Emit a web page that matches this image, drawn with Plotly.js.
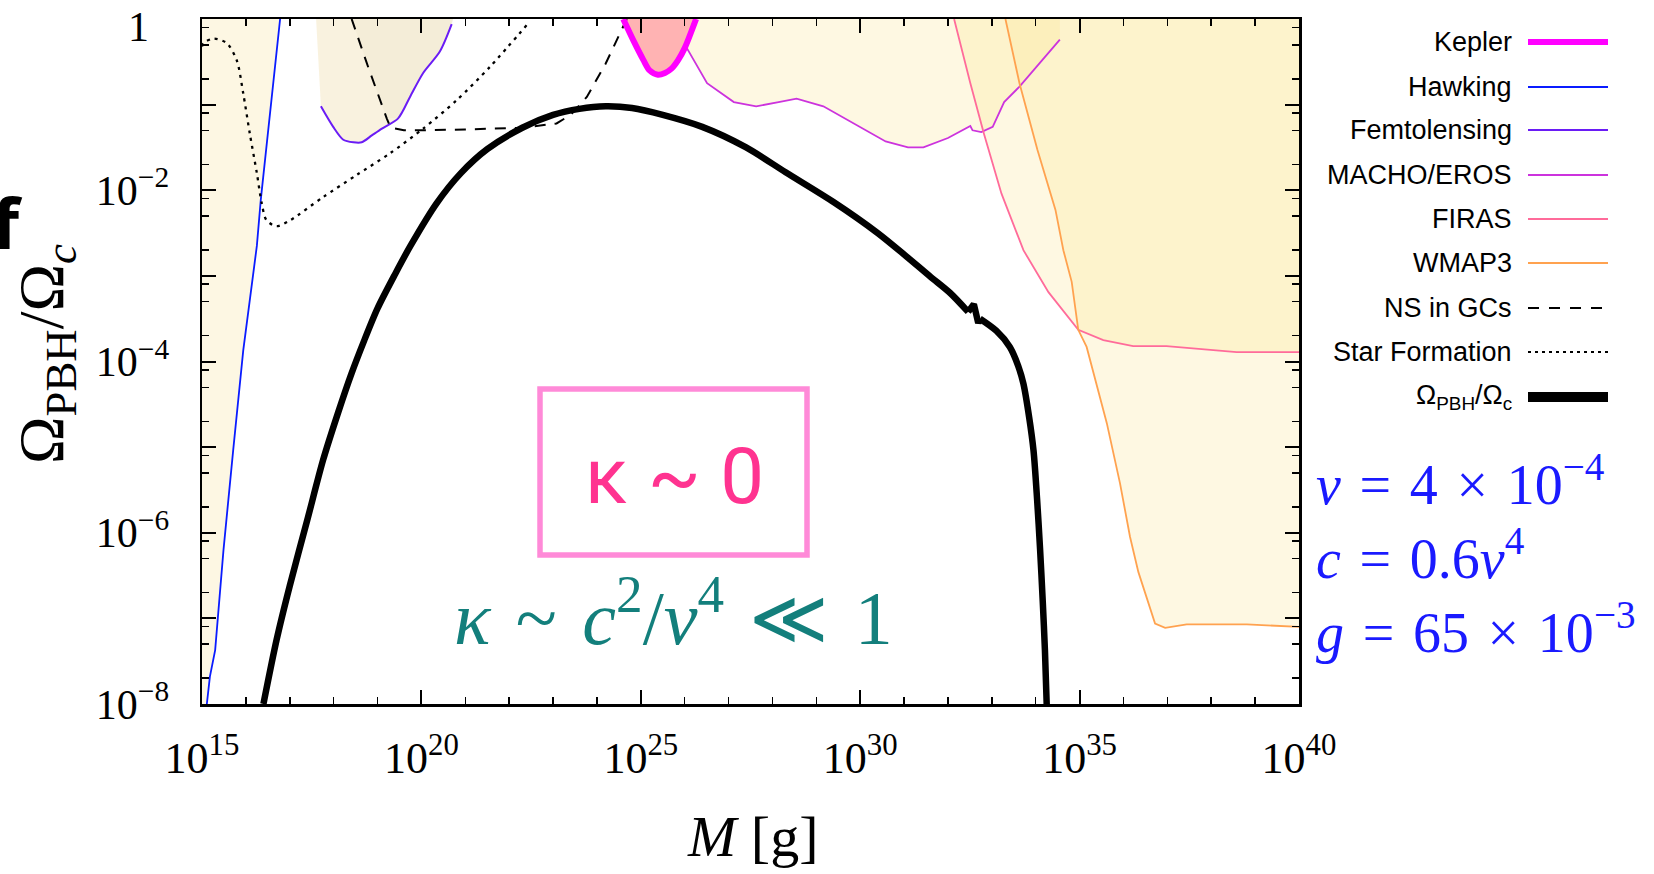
<!DOCTYPE html>
<html>
<head>
<meta charset="utf-8">
<script src="https://cdn.plot.ly/plotly-3.0.1.min.js"></script>
<style>
html,body{margin:0;padding:0;background:#fff;}
#chart{width:1654px;height:874px;}
</style>
</head>
<body>
<div id="chart"></div>
<script>
// ---------- data (log10 M [g], log10 Omega_PBH/Omega_c) ----------
var pbhLogM = [16.40,16.70,17.00,17.40,17.76,18.10,18.40,18.70,19.00,19.40,19.75,20.35,20.90,21.50,22.30,23.00,23.60,24.20,24.80,25.50,26.40,27.40,28.30,29.40,30.40,31.00,31.60,32.05,32.46,32.59,32.69,32.73,33.10,33.41,33.60,33.72,33.85,33.95,34.03,34.10,34.16,34.21,34.25];
var pbhLogO = [-8.00,-7.25,-6.62,-5.85,-5.15,-4.60,-4.15,-3.75,-3.38,-2.98,-2.65,-2.15,-1.80,-1.52,-1.27,-1.12,-1.05,-1.02,-1.04,-1.12,-1.26,-1.50,-1.79,-2.14,-2.50,-2.75,-3.01,-3.20,-3.42,-3.33,-3.55,-3.50,-3.64,-3.83,-4.05,-4.26,-4.65,-5.04,-5.60,-6.20,-6.80,-7.37,-8.00];

var hawkLogM = [15.11,15.18,15.30,15.49,15.71,15.94,16.09,16.25,16.34,16.78];
var hawkLogO = [-8.00,-7.68,-7.37,-6.20,-5.04,-3.87,-3.28,-2.65,-2.11,0.00];

var femtoLogM = [17.60,17.71,17.99,18.22,18.45,18.64,18.87,19.10,19.47,19.74,20.04,20.42,20.69];
var femtoLogO = [0.00,-1.02,-1.26,-1.41,-1.44,-1.44,-1.36,-1.28,-1.16,-0.91,-0.63,-0.38,-0.06];

var nsLogM = [18.41,18.80,19.21,19.30,19.60,20.04,21.00,22.32,23.08,23.40,23.77,24.20,24.68];
var nsLogO = [0.00,-0.58,-1.16,-1.27,-1.30,-1.30,-1.29,-1.27,-1.22,-1.12,-0.91,-0.52,0.00];

var starLogM = [15.00,15.03,15.26,15.56,15.79,15.94,16.09,16.25,16.36,16.47,16.70,17.01,17.76,18.53,19.28,20.04,20.80,21.56,22.47];
var starLogO = [-0.32,-0.28,-0.23,-0.28,-0.48,-0.87,-1.34,-1.80,-2.15,-2.35,-2.42,-2.35,-2.08,-1.82,-1.57,-1.28,-0.95,-0.56,-0.03];

var keplerLogM = [24.60,24.83,25.06,25.20,25.39,25.55,25.70,25.85,26.00,26.26];
var keplerLogO = [0.00,-0.25,-0.48,-0.60,-0.65,-0.63,-0.58,-0.48,-0.34,0.00];

var machoLogM = [26.05,26.51,27.12,27.63,28.14,28.55,29.16,30.07,30.58,31.09,31.44,32.00,32.51,32.56,32.76,33.02,33.28,33.63,34.04,34.55];
var machoLogO = [-0.34,-0.75,-0.97,-1.02,-0.97,-0.93,-1.02,-1.28,-1.43,-1.50,-1.50,-1.39,-1.25,-1.30,-1.32,-1.26,-0.97,-0.79,-0.54,-0.24];

var firasLogM = [32.14,32.51,32.82,33.22,33.72,34.29,34.97,35.54,36.22,36.98,38.58,40.00];
var firasLogO = [0.00,-0.75,-1.34,-2.04,-2.70,-3.19,-3.63,-3.75,-3.82,-3.82,-3.89,-3.89];

var wmapLogM = [33.31,33.63,34.04,34.45,34.63,34.82,34.97,35.16,35.62,35.92,36.15,36.34,36.72,36.95,37.44,38.81,40.00];
var wmapLogO = [0.00,-0.75,-1.53,-2.23,-2.70,-3.07,-3.63,-3.83,-4.72,-5.42,-6.05,-6.46,-7.06,-7.11,-7.07,-7.07,-7.10];

var legendNames = ['Kepler','Hawking','Femtolensing','MACHO/EROS','FIRAS','WMAP3','NS in GCs','Star Formation','Ω<sub>PBH</sub>/Ω<sub>c</sub>'];
var xTickExp = [15,20,25,30,35,40];
var yTickExp = [-8,-7,-6,-5,-4,-3,-2,-1,0];
var yMinorMult = [2,5,8];

// ---------- helpers ----------
function pw(a){ return a.map(function(v){ return Math.pow(10, v); }); }
var AXMIN = 15, AXMAX = 40, AYMIN = -8, AYTOP = 0;

// ---------- styles ----------
var cKepler = '#ff00ff', cHawk = '#0a1cff', cFemto = '#6a1cf5', cMacho = '#cc33dd',
    cFiras = '#ff6b9a', cWmap = '#ffa24f', cBlack = '#000000';
var fillYellow = 'rgba(251,227,139,0.25)';

var traces = [];
function fillTrace(lx, ly, color){
  traces.push({x: pw(lx), y: pw(ly), mode:'lines', fill:'toself', fillcolor: color,
    line:{width:0, color:'rgba(0,0,0,0)'}, hoverinfo:'skip', showlegend:false});
}
function lineTrace(lx, ly, color, width, dash, shape){
  traces.push({x: pw(lx), y: pw(ly), mode:'lines',
    line:{color:color, width:width, dash:dash||'solid', shape:shape||'linear', smoothing:0.8},
    hoverinfo:'skip', showlegend:false});
}

// fills
fillTrace([AXMIN].concat(hawkLogM, [AXMIN]), [AYMIN].concat(hawkLogO, [AYTOP]), 'rgba(250,232,175,0.35)');
fillTrace(femtoLogM.concat([femtoLogM[femtoLogM.length-1]+0.03]), femtoLogO.concat([AYTOP]), 'rgba(235,215,155,0.32)');
// slightly darker part of the femtolensing region, right of the NS dashed line
(function(){
  var lx = [], ly = [];
  for (var i=0;i<nsLogM.length;i++){ if(nsLogM[i] <= 19.21){ lx.push(nsLogM[i]); ly.push(nsLogO[i]); } }
  for (var j=0;j<femtoLogM.length;j++){ if(femtoLogM[j] >= 19.3){ lx.push(femtoLogM[j]); ly.push(femtoLogO[j]); } }
  lx.push(femtoLogM[femtoLogM.length-1]+0.03); ly.push(AYTOP);
  fillTrace(lx, ly, 'rgba(215,205,170,0.12)');
})();
fillTrace(machoLogM.concat([machoLogM[machoLogM.length-1], machoLogM[0]]), machoLogO.concat([AYTOP, AYTOP]), fillYellow);
fillTrace(firasLogM.concat([AXMAX]), firasLogO.concat([AYTOP]), fillYellow);
fillTrace(wmapLogM.concat([AXMAX]), wmapLogO.concat([AYTOP]), fillYellow);
fillTrace(keplerLogM, keplerLogO, '#ffb3b3');

// lines
lineTrace(hawkLogM, hawkLogO, cHawk, 1.8);
lineTrace(femtoLogM.slice(1), femtoLogO.slice(1), cFemto, 2, 'solid', 'spline');
lineTrace(machoLogM, machoLogO, cMacho, 1.8);
lineTrace(firasLogM, firasLogO, cFiras, 1.8);
lineTrace(wmapLogM, wmapLogO, cWmap, 1.8);
lineTrace(nsLogM, nsLogO, cBlack, 2, '11px,9px');
lineTrace(starLogM, starLogO, cBlack, 2.3, '3px,5px', 'spline');
lineTrace(keplerLogM, keplerLogO, cKepler, 6, 'solid', 'spline');
// PBH curve: smooth parts either side of the sharp notch
var notchA = 28, notchB = 31;
lineTrace(pbhLogM.slice(0, notchA+1), pbhLogO.slice(0, notchA+1), cBlack, 6.5, 'solid', 'spline');
lineTrace(pbhLogM.slice(notchA, notchB+1), pbhLogO.slice(notchA, notchB+1), cBlack, 6.5, 'solid', 'linear');
lineTrace(pbhLogM.slice(notchB), pbhLogO.slice(notchB), cBlack, 6.5, 'solid', 'spline');

// ---------- axes ----------
var xTickVals = xTickExp.map(function(e){ return Math.pow(10,e); });
var xTickText = xTickExp.map(function(e){ return '10<sup>'+e+'</sup>'; });
var xMinor = []; for (var e=15;e<=40;e++){ xMinor.push(Math.pow(10,e)); }
var yTickVals = yTickExp.map(function(e){ return Math.pow(10,e); });
var yTickText = yTickExp.map(function(e){
  if (e === 0) return '';
  if (e % 2 !== 0) return '';
  return '10<sup>\u2212'+(-e)+'</sup>';
});
var yMinor = [];
for (var k=-8;k<0;k++){ yMinorMult.forEach(function(m){ yMinor.push(m*Math.pow(10,k)); }); }

var serif = 'Liberation Serif, DejaVu Serif, serif';
var sans = 'Liberation Sans, Arial, sans-serif';

// ---------- legend (manual, text left of sample) ----------
var W = 1097, H = 685, L = 202, T = 19;
function px2x(px){ return (px - L)/W; }
function py2y(py){ return (T + H - py)/H; }
var legRows = [42,87,130,175,219,263,308,352,397];
var legStyles = [
  {c:cKepler,w:6,d:'solid'},{c:cHawk,w:2,d:'solid'},{c:cFemto,w:2,d:'solid'},{c:cMacho,w:2,d:'solid'},
  {c:cFiras,w:2,d:'solid'},{c:cWmap,w:2,d:'solid'},{c:cBlack,w:2,d:'11px,10px'},{c:cBlack,w:2,d:'3px,4px'},{c:cBlack,w:10,d:'solid'}
];
var annotations = [], shapes = [];
legendNames.forEach(function(n,i){
  annotations.push({xref:'paper',yref:'paper',x:px2x(1514),y:py2y(legRows[i]),xanchor:'right',yanchor:'middle',
    text:n, showarrow:false, font:{family:sans,size:27,color:'#000'}});
  shapes.push({type:'line',xref:'paper',yref:'paper',x0:px2x(1528),x1:px2x(1608),y0:py2y(legRows[i]),y1:py2y(legRows[i]),
    line:{color:legStyles[i].c,width:legStyles[i].w,dash:legStyles[i].d}});
});

// top y tick label "1"
annotations.push({xref:'paper',yref:'paper',x:px2x(138),y:py2y(27),xanchor:'center',yanchor:'middle',showarrow:false,
  text:'1', font:{family:serif,size:42,color:'#000'}});

// kappa box
shapes.push({type:'rect',xref:'paper',yref:'paper',x0:px2x(540),x1:px2x(807),y0:py2y(555),y1:py2y(389),
  line:{color:'#ff8ad8',width:5.5}, fillcolor:'rgba(0,0,0,0)'});

annotations.push({xref:'paper',yref:'paper',x:px2x(674),y:py2y(476),xanchor:'center',yanchor:'middle',showarrow:false,
  text:'κ ~ 0', font:{family:'Roboto, Open Sans, sans-serif',size:78,color:'#ff3390'}});
annotations.push({xref:'paper',yref:'paper',x:px2x(673),y:py2y(612),xanchor:'center',yanchor:'middle',showarrow:false,
  text:'<i>κ</i>\u2004~\u2004<i>c</i><sup>2</sup>/<i>v</i><sup>4</sup>\u2004≪\u20041', font:{family:serif,size:76,color:'#137f7c'}});

var blue = '#1a1aff';
var sp = '\u2004';
annotations.push({xref:'paper',yref:'paper',x:px2x(1314),y:py2y(480),xanchor:'left',yanchor:'middle',showarrow:false,
  text:'<i>v</i>'+sp+'='+sp+'4'+sp+'×'+sp+'10<sup>\u22124</sup>', font:{family:serif,size:56,color:blue}});
annotations.push({xref:'paper',yref:'paper',x:px2x(1314),y:py2y(554),xanchor:'left',yanchor:'middle',showarrow:false,
  text:'<i>c</i>'+sp+'='+sp+'0.6<i>v</i><sup>4</sup>', font:{family:serif,size:56,color:blue}});
annotations.push({xref:'paper',yref:'paper',x:px2x(1314),y:py2y(628),xanchor:'left',yanchor:'middle',showarrow:false,
  text:'<i>g</i>'+sp+'='+sp+'65'+sp+'×'+sp+'10<sup>\u22123</sup>', font:{family:serif,size:56,color:blue}});

// panel letter
annotations.push({xref:'paper',yref:'paper',x:px2x(-10),y:py2y(222),xanchor:'left',yanchor:'middle',showarrow:false,
  text:'<b>f</b>', font:{family:'Open Sans, Noto Sans, sans-serif',size:70,color:'#000'}});

// axis titles
annotations.push({xref:'paper',yref:'paper',x:px2x(46),y:py2y(354),xanchor:'center',yanchor:'middle',showarrow:false,textangle:-90,
  text:'Ω<sub>PBH</sub>/Ω<sub><i>c</i></sub>', font:{family:serif,size:64,color:'#000'}});
annotations.push({xref:'paper',yref:'paper',x:px2x(752),y:py2y(836),xanchor:'center',yanchor:'middle',showarrow:false,
  text:'<i>M</i> [g]', font:{family:serif,size:58,color:'#000'}});

var layout = {
  width:1654, height:874,
  margin:{l:L, r:1654-L-W, t:T, b:874-T-H, pad:0},
  paper_bgcolor:'#ffffff', plot_bgcolor:'#ffffff',
  showlegend:false,
  xaxis:{type:'log', range:[AXMIN,AXMAX], tickmode:'array', tickvals:xTickVals, ticktext:xTickText,
    ticks:'inside', ticklen:14, tickwidth:2, tickcolor:'#000', showline:true, linewidth:2.5, linecolor:'#000',
    mirror:'allticks', showgrid:false, zeroline:false, ticklabelstandoff:14,
    tickfont:{family:serif,size:44,color:'#000'},
    minor:{tickmode:'array', tickvals:xMinor, ticks:'inside', ticklen:7, tickwidth:1.5, tickcolor:'#000', showgrid:false}},
  yaxis:{type:'log', range:[AYMIN,AYTOP], tickmode:'array', tickvals:yTickVals, ticktext:yTickText,
    ticks:'inside', ticklen:14, tickwidth:2, tickcolor:'#000', showline:true, linewidth:2.5, linecolor:'#000',
    mirror:'allticks', showgrid:false, zeroline:false, ticklabelstandoff:22,
    tickfont:{family:serif,size:42,color:'#000'},
    minor:{tickmode:'array', tickvals:yMinor, ticks:'inside', ticklen:7, tickwidth:1.5, tickcolor:'#000', showgrid:false}},
  annotations:annotations,
  shapes:shapes
};

Plotly.newPlot('chart', traces, layout, {staticPlot:true, displayModeBar:false});
</script>
</body>
</html>
